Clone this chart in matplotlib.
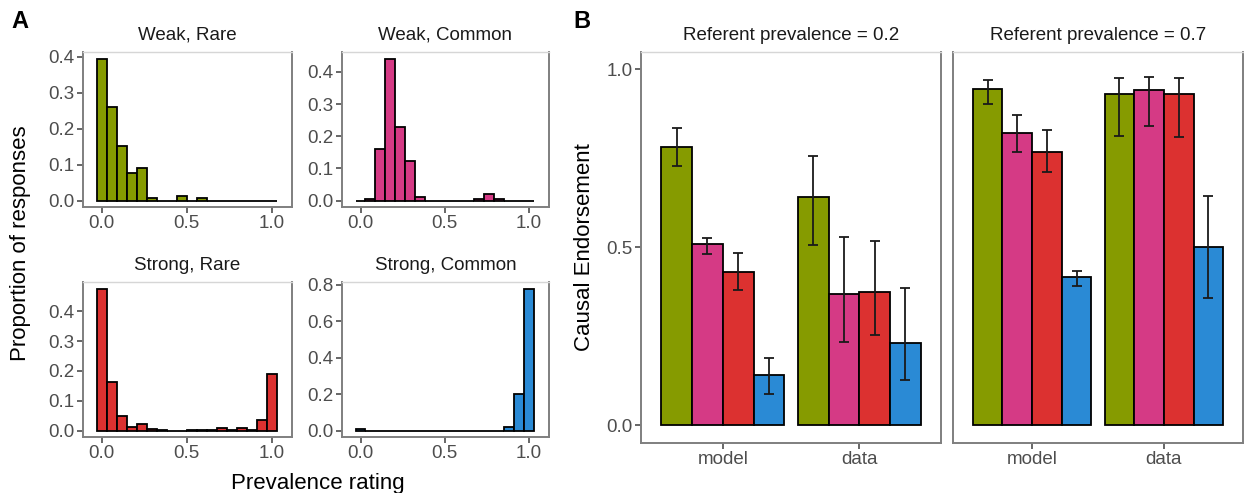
import numpy as np
import matplotlib
matplotlib.use('Agg')
import matplotlib.pyplot as plt

plt.rcParams['font.family'] = ['Liberation Sans', 'DejaVu Sans']

# panel A: histogram of prevalence ratings, 18 bins centred on k/17
bin_centers = [k / 17 for k in range(18)]
weak_rare = [0.393, 0.26, 0.152, 0.078, 0.091, 0.006, 0, 0, 0.013, 0, 0.006, 0, 0, 0, 0, 0, 0, 0]
weak_common = [0, 0.005, 0.159, 0.44, 0.229, 0.124, 0.012, 0, 0, 0, 0, 0, 0.005, 0.02, 0.005, 0, 0, 0]
strong_rare = [0.474, 0.163, 0.05, 0.011, 0.021, 0.004, 0.003, 0, 0, 0.003, 0.003, 0.003, 0.009, 0.003, 0.009, 0.003, 0.035, 0.189]
strong_common = [0.008, 0, 0, 0, 0, 0, 0, 0, 0, 0, 0, 0, 0, 0, 0, 0.02, 0.2, 0.776]
hist_titles = ['Weak, Rare', 'Weak, Common', 'Strong, Rare', 'Strong, Common']

# panel B: causal endorsement
conditions = ['Weak, Rare', 'Weak, Common', 'Strong, Rare', 'Strong, Common']
groups = ['model', 'data']
prev_labels = ['Referent prevalence = 0.2', 'Referent prevalence = 0.7']
# [prevalence][group][condition]
means = [[[0.781, 0.508, 0.43, 0.142], [0.641, 0.368, 0.375, 0.231]],
         [[0.943, 0.82, 0.767, 0.415], [0.931, 0.941, 0.929, 0.5]]]
lows = [[[0.728, 0.482, 0.381, 0.088], [0.506, 0.233, 0.252, 0.126]],
        [[0.901, 0.766, 0.71, 0.391], [0.813, 0.84, 0.809, 0.358]]]
highs = [[[0.834, 0.527, 0.483, 0.189], [0.757, 0.528, 0.518, 0.386]],
         [[0.969, 0.872, 0.829, 0.434], [0.975, 0.978, 0.974, 0.643]]]

colors = ['#869B00', '#D53A85', '#DC3130', '#2A8AD5']

W, H = 1244, 493
fig = plt.figure(figsize=(W / 100, H / 100), dpi=100)

def box(l, t, r, b):
    return [l / W, 1 - b / H, (r - l) / W, (b - t) / H]

def style(ax):
    for s in ['left', 'bottom', 'right']:
        ax.spines[s].set_color('#7F7F7F')
        ax.spines[s].set_linewidth(1.4)
    ax.spines['top'].set_color('#D6D6D6')
    ax.spines['top'].set_linewidth(1.0)
    ax.tick_params(colors='#4D4D4D', labelsize=13.5, length=4, width=1.2, pad=2)
    for lab in ax.get_xticklabels() + ax.get_yticklabels():
        lab.set_color('#4D4D4D')

hist_boxes = [(83, 52, 292, 207), (342, 52, 549, 207), (83, 282, 292, 437), (342, 282, 549, 437)]
hist_data = [weak_rare, weak_common, strong_rare, strong_common]
hist_cols = colors
hist_yticks = [np.arange(0, 0.41, 0.1), np.arange(0, 0.41, 0.1), np.arange(0, 0.41, 0.1), np.arange(0, 0.81, 0.2)]
for i in range(4):
    ax = fig.add_axes(box(*hist_boxes[i]))
    vals = hist_data[i]
    ax.bar(bin_centers, vals, width=1 / 17, color=hist_cols[i], edgecolor='black', linewidth=1.3)
    m = max(vals)
    ax.set_ylim(-0.045 * m, 1.05 * m)
    ax.set_xlim(-0.11, 1.12)
    ax.set_xticks([0, 0.5, 1.0])
    ax.set_xticklabels(['0.0', '0.5', '1.0'])
    ax.set_yticks(hist_yticks[i])
    ax.set_yticklabels(['%.1f' % v for v in hist_yticks[i]])
    style(ax)
    ax.set_title(hist_titles[i], fontsize=13.5, color='#1A1A1A', pad=9)

fig.text(21 / W, 1 - 243 / H, 'Proportion of responses', rotation=90, fontsize=16,
         ha='center', va='center')
fig.text(318 / W, 1 - 489 / H, 'Prevalence rating', fontsize=16, ha='center', va='baseline')

bar_boxes = [(641, 52, 941, 443), (953, 52, 1243, 443)]
offsets = [-0.3375, -0.1125, 0.1125, 0.3375]
for p in range(2):
    ax = fig.add_axes(box(*bar_boxes[p]))
    for g in range(2):
        for c in range(4):
            x = g + 1 + offsets[c]
            y = means[p][g][c]
            ax.bar(x, y, width=0.225, color=colors[c], edgecolor='black', linewidth=1.3)
            ax.errorbar(x, y, yerr=[[y - lows[p][g][c]], [highs[p][g][c] - y]],
                        color='#1A1A1A', elinewidth=1.3, capsize=3.6, capthick=1.3)
    ax.set_xlim(0.4, 2.6)
    ax.set_ylim(-0.05, 1.048)
    ax.set_xticks([1, 2])
    ax.set_xticklabels(groups)
    if p == 0:
        ax.set_yticks([0, 0.5, 1.0])
        ax.set_yticklabels(['0.0', '0.5', '1.0'])
    else:
        ax.set_yticks([])
    style(ax)
    ax.set_title(prev_labels[p], fontsize=13.5, color='#1A1A1A', pad=9)

fig.text(585 / W, 1 - 247 / H, 'Causal Endorsement', rotation=90, fontsize=16,
         ha='center', va='center')
fig.text(20 / W, 1 - 22 / H, 'A', fontsize=17, fontweight='bold', ha='center', va='center')
fig.text(582 / W, 1 - 22 / H, 'B', fontsize=17, fontweight='bold', ha='center', va='center')

fig.savefig('out.png', dpi=100)
